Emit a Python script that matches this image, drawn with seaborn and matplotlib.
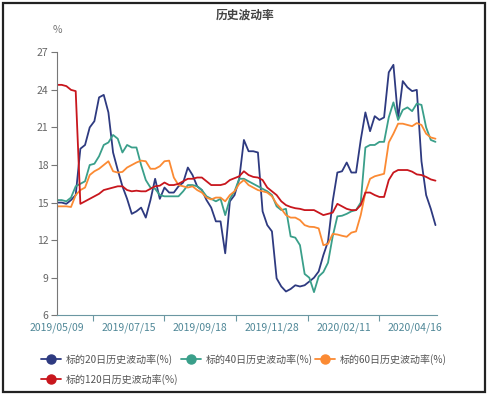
import numpy as np
import pandas as pd
import matplotlib
matplotlib.use("Agg")
import matplotlib.pyplot as plt
from matplotlib.lines import Line2D
from matplotlib.patches import Rectangle
import seaborn as sns

# trading-day index (every 3rd day) and values
day_idx = list(range(0, 244, 3))

vol20 = [15.0, 15.0, 14.9, 15.2, 15.6, 19.3, 19.6, 21.0, 21.5, 23.4, 23.6, 22.2, 19.0, 17.6, 16.3, 15.3, 14.1,
         14.3, 14.6, 13.8, 15.2, 16.9, 15.3, 16.2, 15.8, 15.8, 16.3, 16.6, 17.8, 17.2, 16.3, 16.0, 15.2, 14.6,
         13.5, 13.5, 10.95, 15.1, 15.6, 16.9, 20.0, 19.1, 19.1, 19.0, 14.3, 13.2, 12.7, 8.95, 8.3, 7.9, 8.1,
         8.4, 8.3, 8.4, 8.7, 9.0, 9.5, 10.8, 11.9, 15.1, 17.4, 17.5, 18.2, 17.4, 17.4, 20.0, 22.2, 20.7,
         21.9, 21.6, 21.8, 25.4, 26.0, 21.7, 24.7, 24.2, 23.9, 24.0, 18.3, 15.6, 14.5, 13.2]

vol40 = [15.2, 15.2, 15.1, 15.4, 16.3, 16.5, 16.7, 18.0, 18.1, 18.7, 19.6, 19.8, 20.4, 20.1, 19.0, 19.6, 19.4,
         19.4, 18.0, 16.8, 16.2, 16.1, 15.6, 15.5, 15.5, 15.5, 15.5, 15.9, 16.4, 16.4, 16.3, 16.0, 15.5, 15.3,
         15.1, 15.3, 14.0, 15.3, 15.9, 16.9, 16.9, 16.7, 16.5, 16.3, 16.1, 15.9, 15.6, 14.7, 14.4, 14.5, 12.3,
         12.2, 11.6, 9.3, 9.0, 7.85, 9.1, 9.45, 10.2, 12.3, 13.9, 13.95, 14.1, 14.3, 14.4, 15.0, 19.4, 19.6,
         19.6, 19.85, 19.85, 21.8, 23.0, 21.6, 22.4, 22.6, 22.3, 22.9, 22.8, 21.0, 20.0, 19.85]

vol60 = [14.7, 14.7, 14.7, 14.65, 15.6, 16.0, 16.2, 17.2, 17.5, 17.7, 18.0, 18.3, 17.5, 17.4, 17.45, 17.8, 18.0,
         18.2, 18.35, 18.3, 17.7, 17.7, 17.9, 18.3, 18.35, 17.0, 16.4, 16.3, 16.2, 16.3, 16.0, 15.8, 15.4, 15.25,
         15.4, 15.4, 15.1, 15.6, 15.9, 16.5, 16.8, 16.4, 16.2, 16.0, 15.9, 15.8, 15.5, 14.9, 14.5, 14.0, 13.8,
         13.8, 13.6, 13.2, 13.07, 13.05, 12.94, 11.6, 11.7, 12.5, 12.45, 12.35, 12.27, 12.6, 12.7, 14.0, 15.8, 16.9,
         17.1, 17.2, 17.3, 19.8, 20.5, 21.3, 21.3, 21.2, 21.1, 21.35, 21.2, 20.5, 20.2, 20.1]

vol120 = [24.4, 24.4, 24.3, 24.0, 23.9, 14.9, 15.1, 15.3, 15.5, 15.7, 16.0, 16.1, 16.2, 16.3, 16.3, 16.0, 15.9,
          15.95, 15.9, 15.9, 16.1, 16.3, 16.35, 16.6, 16.4, 16.4, 16.5, 16.7, 16.9, 16.9, 17.0, 17.0, 16.7, 16.4,
          16.4, 16.4, 16.5, 16.8, 16.95, 17.1, 17.5, 17.2, 17.05, 17.0, 16.8, 16.2, 15.9, 15.6, 15.1, 14.8, 14.65,
          14.55, 14.5, 14.4, 14.4, 14.4, 14.2, 14.0, 14.1, 14.2, 14.9, 14.7, 14.5, 14.4, 14.4, 14.8, 15.8, 15.8,
          15.6, 15.45, 15.45, 16.8, 17.4, 17.6, 17.6, 17.6, 17.47, 17.25, 17.2, 17.05, 16.85, 16.75]

series_names = ["标的20日历史波动率(%)", "标的40日历史波动率(%)", "标的60日历史波动率(%)", "标的120日历史波动率(%)"]
colors = ["#2e3a80", "#3a9f8a", "#fb8a33", "#c8161d"]

tick_pos = [0, 46, 92, 138, 184, 230]
tick_labels = ["2019/05/09", "2019/07/15", "2019/09/18", "2019/11/28", "2020/02/11", "2020/04/16"]

df = pd.concat([
    pd.DataFrame({"day": day_idx, "vol": v, "series": name})
    for v, name in zip([vol20, vol40, vol60, vol120], series_names)
])

sns.set_style("white")
plt.rcParams["font.family"] = ["Noto Sans CJK SC", "DejaVu Sans"]

fig = plt.figure(figsize=(4.91, 3.98), dpi=100)
ax = fig.add_axes([0.1161, 0.2078, 0.774, 0.6608])

sns.lineplot(data=df, x="day", y="vol", hue="series", hue_order=series_names,
             palette=colors, linewidth=1.3, legend=False, ax=ax)

ax.set_xlim(0, 244)
ax.set_ylim(6, 27)
ax.set_yticks(range(6, 28, 3))
ax.set_xticks(tick_pos)
ax.set_xticklabels(tick_labels)
ax.set_xticks([23, 69, 115, 161, 207], minor=True)
ax.set_xlabel("")
ax.set_ylabel("")

for s in ["top", "right"]:
    ax.spines[s].set_visible(False)
ax.spines["left"].set_color("#777777")
ax.spines["bottom"].set_color("#6b97a2")
ax.tick_params(axis="y", length=4, width=0.8, color="#777777", labelsize=7.5,
               labelcolor="#666666", pad=2, left=True)
ax.tick_params(axis="x", which="major", length=0, labelsize=7.5, labelcolor="#4f8797", pad=5, bottom=True)
ax.tick_params(axis="x", which="minor", length=4, width=0.8, color="#6b97a2", bottom=True)

fig.text(0.5, 0.962, "历史波动率", ha="center", va="center", fontsize=8.5,
         fontweight="bold", color="#444444")
fig.text(57 / 491, 0.925, "%", ha="center", va="center", fontsize=7.5, color="#777777")

handles = [Line2D([0], [0], color=c, lw=1.3, marker="o", markersize=6.5) for c in colors]
order = [0, 3, 1, 2]
fig.legend([handles[i] for i in order], [series_names[i] for i in order],
           loc="upper left", bbox_to_anchor=(41 / 491, (398 - 354) / 398), ncol=3,
           frameon=False, fontsize=7.2, labelcolor="#555555", handlelength=2.0,
           handletextpad=0.5, columnspacing=0.2, labelspacing=0.9, borderpad=0,
           borderaxespad=0)

fig.patches.append(Rectangle((3 / 491, 6 / 398), 482 / 491, 389 / 398, transform=fig.transFigure,
                             fill=False, edgecolor="#222222", linewidth=1.6))

fig.savefig("out.png", dpi=100)
